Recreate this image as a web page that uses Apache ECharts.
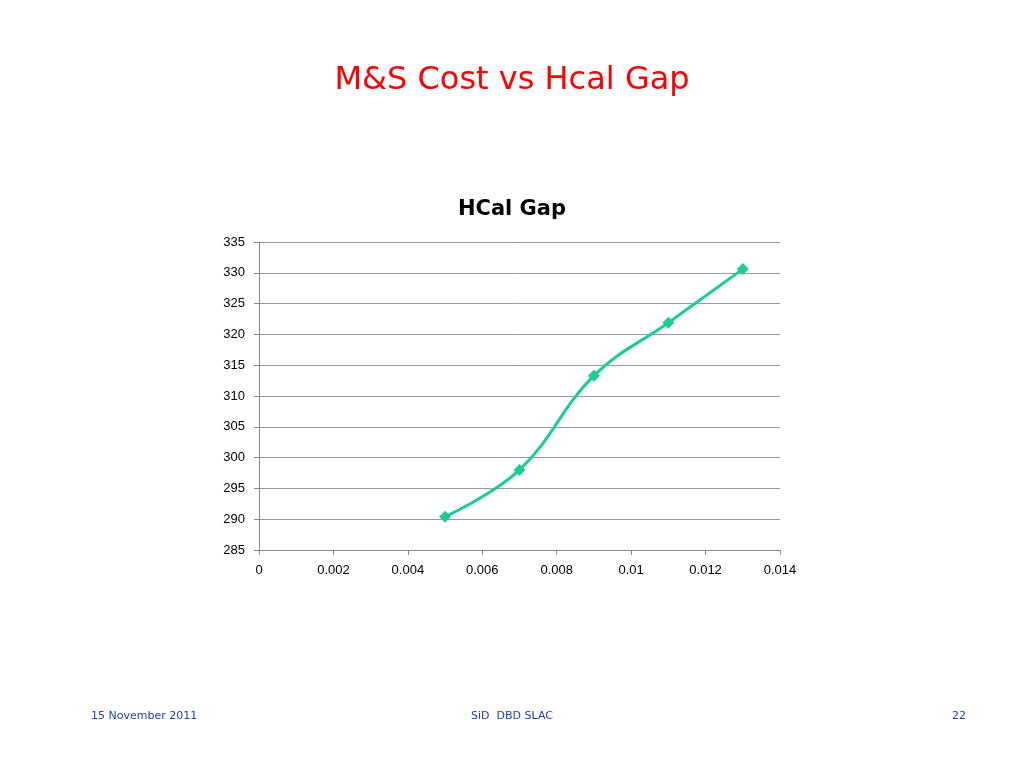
<!DOCTYPE html>
<html><head><meta charset="utf-8">
<script src="https://cdn.jsdelivr.net/npm/echarts@6/dist/echarts.min.js"></script>
<style>html,body{margin:0;padding:0;background:#fff}#c{width:1024px;height:768px}</style>
</head><body><div id="c"></div>
<script>
const xValues = [0.005, 0.007, 0.009, 0.011, 0.013];
const costValues = [290.4, 298.0, 313.3, 321.9, 330.6];
const xTicks = [0, 0.002, 0.004, 0.006, 0.008, 0.01, 0.012, 0.014];

const chart = echarts.init(document.getElementById('c'));
chart.setOption({
  animation: false,
  title: [
    {text: 'M&S Cost vs Hcal Gap', left: 'center', top: 60,
     textStyle: {color: '#ff0000', fontSize: 32, fontWeight: 'normal', fontFamily: 'DejaVu Sans'}},
    {text: 'HCal Gap', left: 'center', top: 194,
     textStyle: {color: '#000', fontSize: 21, fontWeight: 'bold', fontFamily: 'DejaVu Sans'}},
    {text: '15 November 2011', left: 86, top: 706,
     textStyle: {color: '#1f3fb0', fontSize: 11, fontWeight: 'normal', fontFamily: 'DejaVu Sans'}},
    {text: 'SiD  DBD SLAC', left: 'center', top: 706,
     textStyle: {color: '#1f3fb0', fontSize: 11, fontWeight: 'normal', fontFamily: 'DejaVu Sans'}},
    {text: '22', left: 947, top: 706,
     textStyle: {color: '#1f3fb0', fontSize: 11, fontWeight: 'normal', fontFamily: 'DejaVu Sans'}}
  ],
  grid: {left: 259, right: 244, top: 242, bottom: 218},
  xAxis: {
    type: 'value', min: 0, max: 0.014, interval: 0.002,
    axisLine: {lineStyle: {color: '#888'}},
    axisTick: {show: true, lineStyle: {color: '#888'}},
    splitLine: {show: false},
    axisLabel: {color: '#000', fontSize: 13, margin: 14,
      formatter: v => { const t = xTicks.find(k => Math.abs(k - v) < 1e-9); return t === undefined ? '' : String(t); }}
  },
  yAxis: {
    type: 'value', min: 285, max: 335, interval: 5,
    axisLine: {show: true, lineStyle: {color: '#888'}},
    axisTick: {show: true, lineStyle: {color: '#888'}},
    splitLine: {lineStyle: {color: '#999'}},
    axisLabel: {color: '#000', fontSize: 13, margin: 14}
  },
  series: [{
    type: 'line', smooth: 0.4,
    data: xValues.map((x, i) => [x, costValues[i]]),
    symbol: 'diamond', symbolSize: 12,
    lineStyle: {color: '#1ccc96', width: 3},
    itemStyle: {color: '#1ccc96'}
  }]
});
</script></body></html>
